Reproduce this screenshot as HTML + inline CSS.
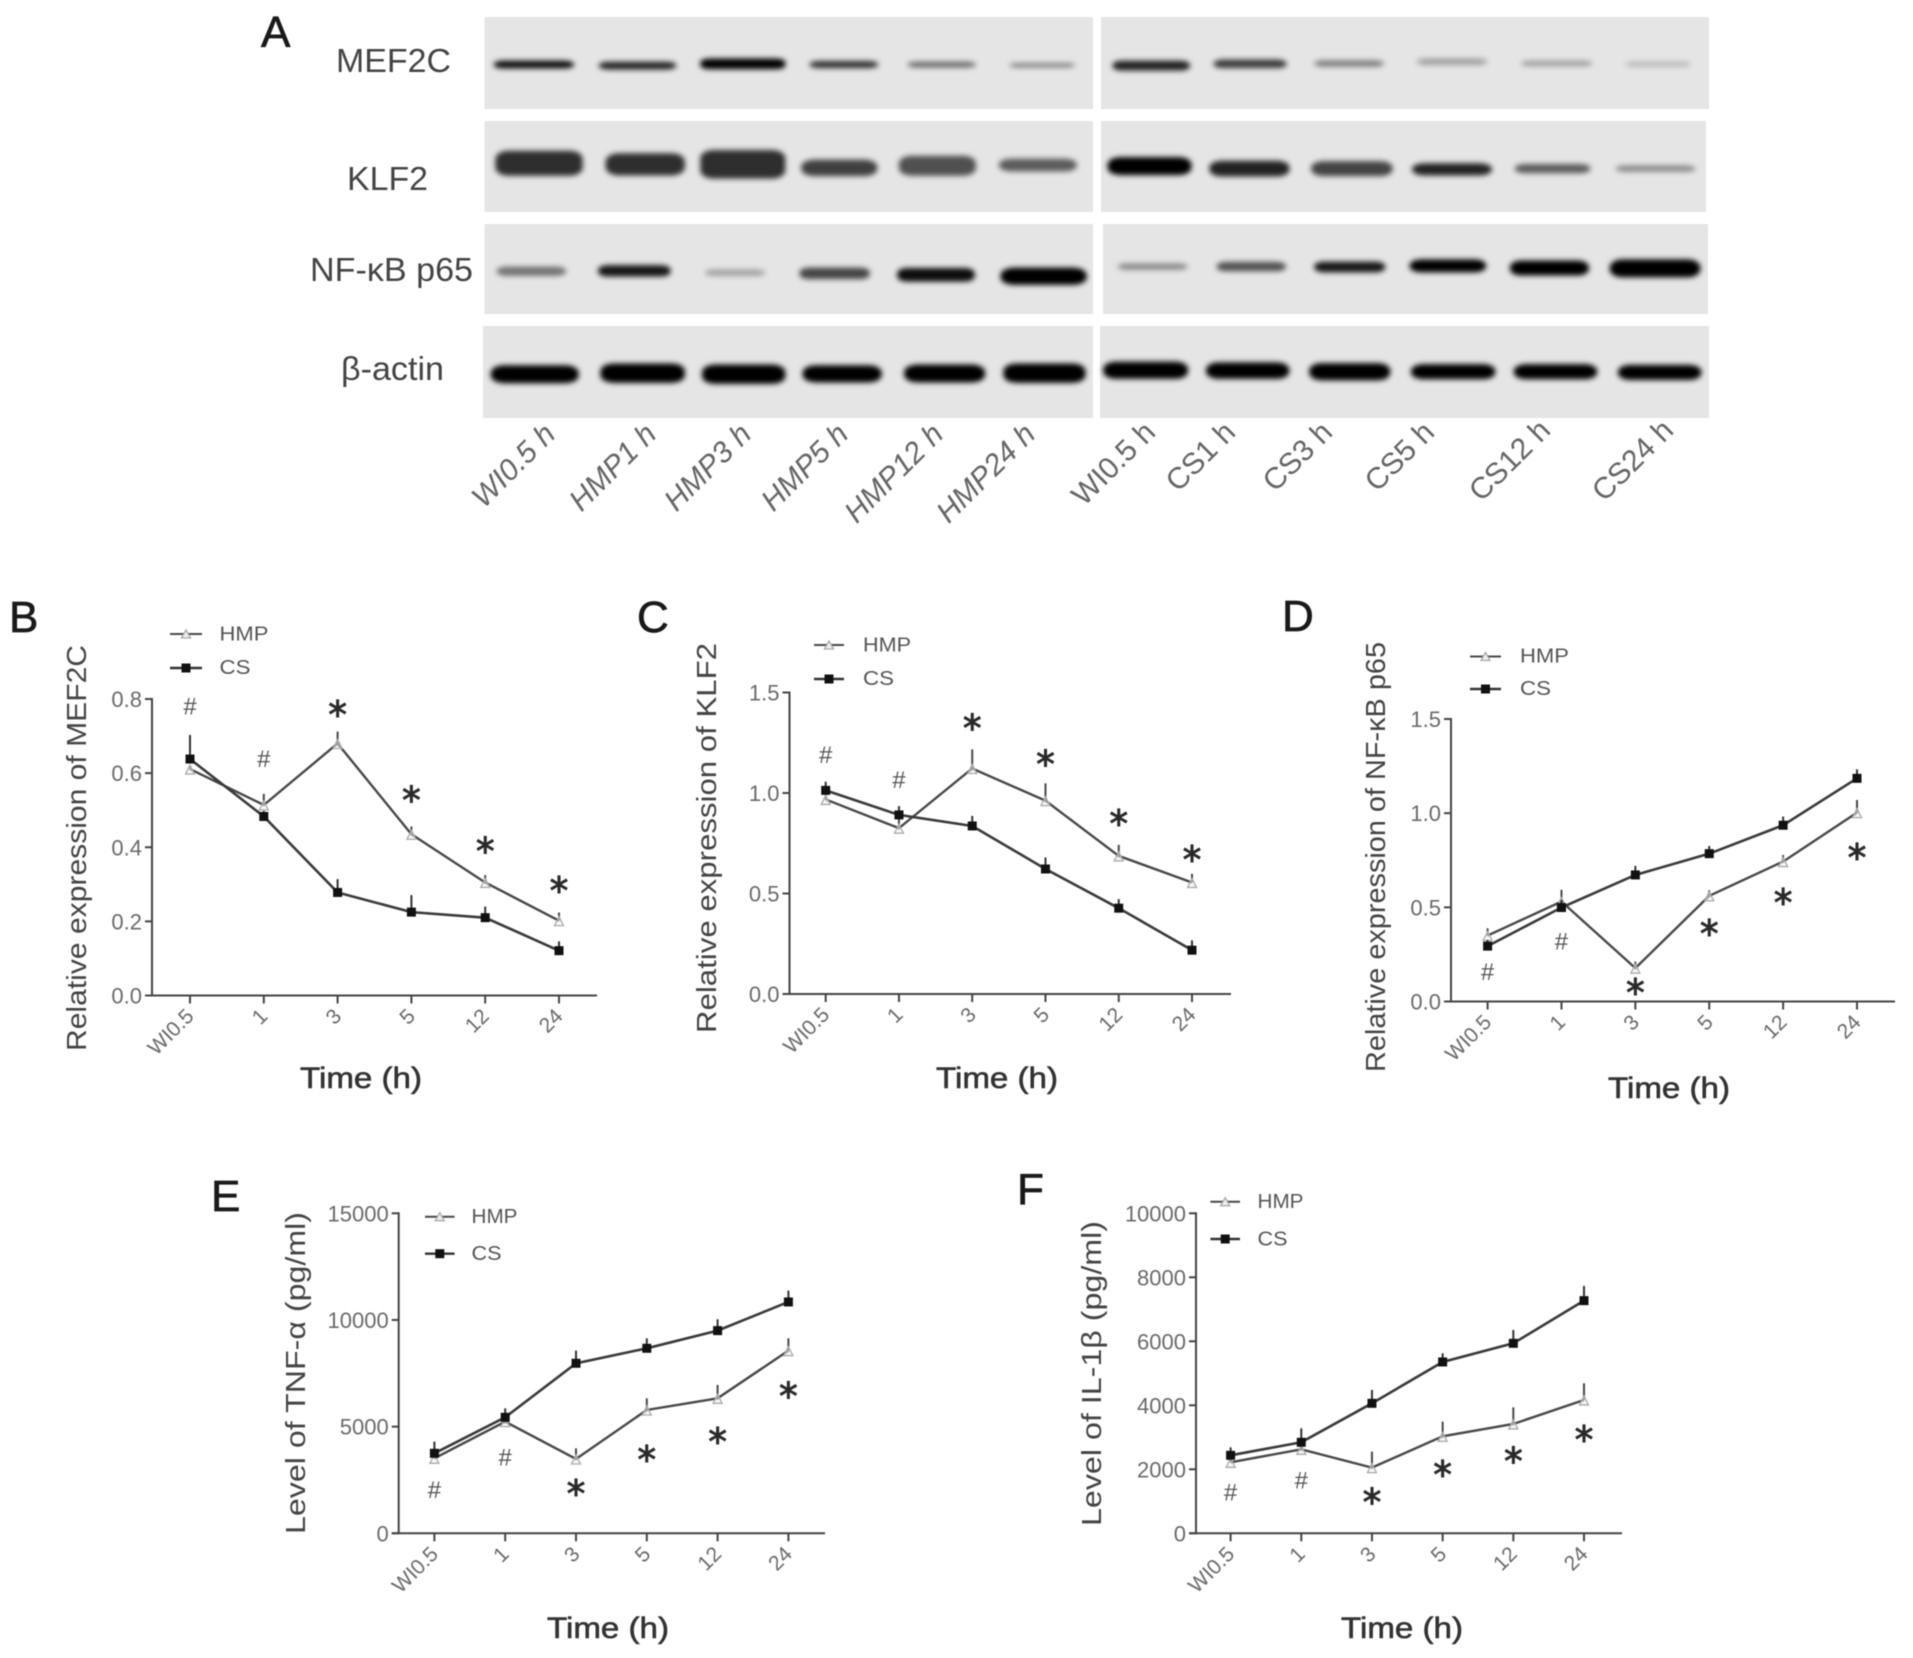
<!DOCTYPE html>
<html lang="en">
<head>
<meta charset="utf-8">
<title>Western blot and time-course expression panels</title>
<style>
  html, body { margin: 0; padding: 0; background: #fff; }
  svg { display: block; font-family: "Liberation Sans", sans-serif; filter: blur(0.6px); }
  .panel-letter { font-size: 44px; fill: #1a1a1a; stroke: #1a1a1a; stroke-width: 0.7px; }
  .blot-label { font-size: 33px; fill: #444; }
  .lane { font-size: 30px; fill: #666; }
  .y-title { font-size: 28px; fill: #444; }
  .x-title { font-size: 30px; fill: #333; stroke: #333; stroke-width: 0.6px; }
  .legend-text { font-size: 20px; fill: #555; }
</style>
</head>
<body>
<svg id="figure" xmlns="http://www.w3.org/2000/svg" width="1913" height="1658" viewBox="0 0 1913 1658">
  <defs>
    <filter id="bandBlur" x="-5%" y="-5%" width="110%" height="110%"><feGaussianBlur stdDeviation="2.6"/></filter>
  </defs>
  <rect x="0" y="0" width="1913" height="1658" fill="#fff"/>

  <!-- Panel A -->
  <g>
    <text class="panel-letter" x="261" y="47">A</text>
    <g fill="#e5e5e5">
      <rect x="484.5" y="17" width="608.5" height="92"/>
      <rect x="1101" y="17" width="608" height="92"/>
      <rect x="484.5" y="121" width="608.5" height="91"/>
      <rect x="1101" y="121" width="605" height="91"/>
      <rect x="484.5" y="224" width="608.5" height="90"/>
      <rect x="1103" y="224" width="605" height="90"/>
      <rect x="483" y="326" width="610" height="92"/>
      <rect x="1100" y="326" width="609" height="92"/>
    </g>
    <g filter="url(#bandBlur)">
      <g transform="translate(240 0) scale(0.574 0.3588)" fill="#000">
        <rect x="442" y="169" width="140" height="22" rx="18" ry="10" opacity="0.95"/>
        <rect x="625" y="172" width="135" height="22" rx="18" ry="10" opacity="0.85"/>
        <rect x="802" y="163" width="148" height="30" rx="18" ry="10" opacity="1"/>
        <rect x="992" y="170" width="120" height="20" rx="18" ry="10" opacity="0.8"/>
        <rect x="1163" y="172" width="119" height="16" rx="18" ry="8" opacity="0.55"/>
        <rect x="1340" y="176" width="115" height="12" rx="18" ry="6" opacity="0.45"/>

        <rect x="445" y="420" width="152" height="70" rx="24" ry="22" opacity="0.8"/>
        <rect x="637" y="427" width="138" height="62" rx="24" ry="22" opacity="0.8"/>
        <rect x="802" y="418" width="148" height="80" rx="24" ry="22" opacity="0.8"/>
        <rect x="978" y="445" width="132" height="46" rx="24" ry="18" opacity="0.72"/>
        <rect x="1148" y="434" width="134" height="56" rx="24" ry="20" opacity="0.65"/>
        <rect x="1322" y="442" width="136" height="36" rx="24" ry="16" opacity="0.6"/>

        <rect x="447" y="743" width="121" height="26" rx="18" ry="12" opacity="0.5"/>
        <rect x="624" y="739" width="126" height="32" rx="18" ry="12" opacity="0.9"/>
        <rect x="810" y="751" width="105" height="18" rx="18" ry="9" opacity="0.3"/>
        <rect x="975" y="746" width="122" height="32" rx="18" ry="12" opacity="0.7"/>
        <rect x="1145" y="747" width="135" height="38" rx="18" ry="14" opacity="0.95"/>
        <rect x="1325" y="746" width="150" height="48" rx="24" ry="20" opacity="1"/>

        <rect x="437" y="1018" width="153" height="50" rx="24" ry="20"/>
        <rect x="628" y="1013" width="147" height="54" rx="24" ry="20"/>
        <rect x="805" y="1016" width="145" height="54" rx="24" ry="20"/>
        <rect x="980" y="1018" width="138" height="48" rx="24" ry="20"/>
        <rect x="1157" y="1016" width="141" height="50" rx="24" ry="20"/>
        <rect x="1330" y="1013" width="143" height="54" rx="24" ry="20"/>
      </g>
      <g transform="translate(1000 0) scale(0.4847 0.3588)" fill="#000">
        <rect x="232" y="169" width="160" height="28" rx="20" ry="12" opacity="0.85"/>
        <rect x="440" y="166" width="152" height="24" rx="20" ry="12" opacity="0.75"/>
        <rect x="648" y="168" width="144" height="18" rx="20" ry="9" opacity="0.45"/>
        <rect x="860" y="163" width="145" height="18" rx="20" ry="9" opacity="0.3"/>
        <rect x="1075" y="169" width="147" height="16" rx="20" ry="8" opacity="0.3"/>
        <rect x="1290" y="172" width="135" height="14" rx="20" ry="7" opacity="0.2"/>

        <rect x="222" y="438" width="173" height="50" rx="26" ry="20" opacity="1"/>
        <rect x="432" y="448" width="165" height="44" rx="26" ry="18" opacity="0.85"/>
        <rect x="642" y="449" width="168" height="42" rx="26" ry="18" opacity="0.7"/>
        <rect x="850" y="455" width="165" height="34" rx="26" ry="16" opacity="0.85"/>
        <rect x="1062" y="457" width="156" height="26" rx="22" ry="12" opacity="0.6"/>
        <rect x="1270" y="461" width="165" height="18" rx="22" ry="9" opacity="0.4"/>

        <rect x="243" y="734" width="144" height="18" rx="20" ry="9" opacity="0.4"/>
        <rect x="447" y="730" width="143" height="26" rx="20" ry="12" opacity="0.65"/>
        <rect x="648" y="729" width="147" height="30" rx="20" ry="14" opacity="0.9"/>
        <rect x="845" y="723" width="158" height="36" rx="24" ry="16" opacity="1"/>
        <rect x="1052" y="726" width="163" height="42" rx="24" ry="18" opacity="1"/>
        <rect x="1258" y="723" width="187" height="50" rx="26" ry="22" opacity="1"/>

        <rect x="213" y="1008" width="175" height="48" rx="26" ry="20"/>
        <rect x="425" y="1010" width="172" height="46" rx="26" ry="20"/>
        <rect x="638" y="1012" width="167" height="48" rx="26" ry="20"/>
        <rect x="848" y="1015" width="174" height="42" rx="26" ry="18"/>
        <rect x="1060" y="1015" width="172" height="42" rx="26" ry="18"/>
        <rect x="1275" y="1017" width="172" height="42" rx="26" ry="18"/>
      </g>
    </g>
    <text class="blot-label" x="336" y="72" textLength="115" lengthAdjust="spacingAndGlyphs">MEF2C</text>
    <text class="blot-label" x="347" y="190" textLength="81" lengthAdjust="spacingAndGlyphs">KLF2</text>
    <text class="blot-label" x="310" y="281" textLength="163" lengthAdjust="spacingAndGlyphs">NF-κB p65</text>
    <text class="blot-label" x="341" y="380" textLength="103" lengthAdjust="spacingAndGlyphs">β-actin</text>

    <g text-anchor="end">
      <text class="lane" font-style="italic" transform="translate(557 436) rotate(-45)">WI0.5 h</text>
      <text class="lane" font-style="italic" transform="translate(658 436) rotate(-45)">HMP1 h</text>
      <text class="lane" font-style="italic" transform="translate(753 436) rotate(-45)">HMP3 h</text>
      <text class="lane" font-style="italic" transform="translate(850 436) rotate(-45)">HMP5 h</text>
      <text class="lane" font-style="italic" transform="translate(945 436) rotate(-45)">HMP12 h</text>
      <text class="lane" font-style="italic" transform="translate(1037 436) rotate(-45)">HMP24 h</text>
      <text class="lane" transform="translate(1157 434) rotate(-45)">WI0.5 h</text>
      <text class="lane" transform="translate(1237 434) rotate(-45)">CS1 h</text>
      <text class="lane" transform="translate(1334 434) rotate(-45)">CS3 h</text>
      <text class="lane" transform="translate(1436 434) rotate(-45)">CS5 h</text>
      <text class="lane" transform="translate(1552 432) rotate(-45)">CS12 h</text>
      <text class="lane" transform="translate(1675 432) rotate(-45)">CS24 h</text>
    </g>
  </g>

  <!-- Titles and legends of the line charts -->
  <g>
    <text class="panel-letter" x="9" y="632">B</text>
    <text class="y-title" transform="translate(86 1051) rotate(-90)" textLength="406" lengthAdjust="spacingAndGlyphs">Relative expression of MEF2C</text>
    <text class="x-title" x="300" y="1088" textLength="122" lengthAdjust="spacingAndGlyphs">Time (h)</text>
    <text class="legend-text" x="219.5" y="640.5" textLength="49" lengthAdjust="spacingAndGlyphs">HMP</text>
    <text class="legend-text" x="219.5" y="674" textLength="31" lengthAdjust="spacingAndGlyphs">CS</text>
  </g>
  <g>
    <text class="panel-letter" x="637" y="632">C</text>
    <text class="y-title" transform="translate(716 1033) rotate(-90)" textLength="390" lengthAdjust="spacingAndGlyphs">Relative expression of KLF2</text>
    <text class="x-title" x="936" y="1088" textLength="122" lengthAdjust="spacingAndGlyphs">Time (h)</text>
    <text class="legend-text" x="863" y="651.5" textLength="48" lengthAdjust="spacingAndGlyphs">HMP</text>
    <text class="legend-text" x="863" y="685" textLength="31" lengthAdjust="spacingAndGlyphs">CS</text>
  </g>
  <g>
    <text class="panel-letter" x="1282" y="631">D</text>
    <text class="y-title" transform="translate(1385 1072) rotate(-90)" textLength="430" lengthAdjust="spacingAndGlyphs">Relative expression of NF-κB p65</text>
    <text class="x-title" x="1608" y="1098" textLength="122" lengthAdjust="spacingAndGlyphs">Time (h)</text>
    <text class="legend-text" x="1520" y="662.5" textLength="49" lengthAdjust="spacingAndGlyphs">HMP</text>
    <text class="legend-text" x="1520" y="695" textLength="31" lengthAdjust="spacingAndGlyphs">CS</text>
  </g>
  <g>
    <text class="panel-letter" x="211" y="1211">E</text>
    <text class="y-title" transform="translate(305 1534) rotate(-90)" textLength="322" lengthAdjust="spacingAndGlyphs">Level of TNF-α (pg/ml)</text>
    <text class="x-title" x="547" y="1638" textLength="122" lengthAdjust="spacingAndGlyphs">Time (h)</text>
    <text class="legend-text" x="471.5" y="1223" textLength="46" lengthAdjust="spacingAndGlyphs">HMP</text>
    <text class="legend-text" x="471.5" y="1260" textLength="30" lengthAdjust="spacingAndGlyphs">CS</text>
  </g>
  <g>
    <text class="panel-letter" x="1017" y="1204">F</text>
    <text class="y-title" transform="translate(1101 1526) rotate(-90)" textLength="305" lengthAdjust="spacingAndGlyphs">Level of IL-1β (pg/ml)</text>
    <text class="x-title" x="1341" y="1638" textLength="122" lengthAdjust="spacingAndGlyphs">Time (h)</text>
    <text class="legend-text" x="1257.5" y="1208" textLength="46" lengthAdjust="spacingAndGlyphs">HMP</text>
    <text class="legend-text" x="1257.5" y="1245.5" textLength="30" lengthAdjust="spacingAndGlyphs">CS</text>
  </g>
  <g id="charts"></g>
</svg>

<script>
// Shared categories
const timeCategories = ['WI0.5', '1', '3', '5', '12', '24'];
const annotationSymbols = ['#', '#', '*', '*', '*', '*'];

// Panel B: MEF2C
const mef2cTicks = [0.0, 0.2, 0.4, 0.6, 0.8];
const mef2cHmp = [0.611, 0.514, 0.68, 0.435, 0.305, 0.202];
const mef2cCs = [0.638, 0.483, 0.278, 0.225, 0.21, 0.121];
const mef2cHmpErr = [0.01, 0.03, 0.032, 0.021, 0.02, 0.022];
const mef2cCsErr = [0.065, 0.015, 0.036, 0.046, 0.03, 0.025];
const mef2cMarks = [0.78, 0.638, 0.775, 0.544, 0.406, 0.30];

// Panel C: KLF2
const klf2Ticks = [0.0, 0.5, 1.0, 1.5];
const klf2Hmp = [0.968, 0.825, 1.122, 0.962, 0.687, 0.555];
const klf2Cs = [1.013, 0.891, 0.836, 0.622, 0.427, 0.218];
const klf2HmpErr = [0.02, 0.05, 0.095, 0.086, 0.055, 0.043];
const klf2CsErr = [0.043, 0.044, 0.05, 0.057, 0.045, 0.049];
const klf2Marks = [1.189, 1.065, 1.354, 1.175, 0.879, 0.70];

// Panel D: NF-kB p65
const nfkbTicks = [0.0, 0.5, 1.0, 1.5];
const nfkbHmp = [0.35, 0.531, 0.177, 0.561, 0.743, 1.003];
const nfkbCs = [0.294, 0.499, 0.672, 0.785, 0.936, 1.185];
const nfkbHmpErr = [0.039, 0.062, 0.035, 0.03, 0.035, 0.067];
const nfkbCsErr = [0.033, 0.04, 0.048, 0.041, 0.046, 0.048];
const nfkbMarks = [0.156, 0.318, 0.08, 0.394, 0.557, 0.796];

// Panel E: TNF-alpha
const tnfTicks = [0, 5000, 10000, 15000];
const tnfHmp = [3516, 5234, 3484, 5781, 6328, 8562];
const tnfCs = [3750, 5437, 7969, 8672, 9500, 10844];
const tnfHmpErr = [300, 100, 500, 547, 625, 578];
const tnfCsErr = [547, 422, 593, 468, 531, 531];
const tnfMarks = [2031, 3562, 2141, 3750, 4594, 6719];

// Panel F: IL-1 beta
const il1bTicks = [0, 2000, 4000, 6000, 8000, 10000];
const il1bHmp = [2219, 2625, 2052, 3031, 3417, 4167];
const il1bCs = [2437, 2844, 4062, 5354, 5937, 7271];
const il1bHmpErr = [150, 100, 500, 459, 520, 520];
const il1bCsErr = [250, 437, 417, 271, 417, 458];
const il1bMarks = [1281, 1646, 1167, 2031, 2448, 3125];

const SVG_NS = 'http://www.w3.org/2000/svg';

function mk(tag, parent, geometry) {
  const node = document.createElementNS(SVG_NS, tag);
  for (const key in geometry) node.setAttribute(key, geometry[key]);
  parent.appendChild(node);
  return node;
}

function drawChart(cfg) {
  const root = document.getElementById('charts');
  const g = mk('g', root, {});
  
  

  const yMax = cfg.ticks[cfg.ticks.length - 1];
  const yScale = function (v) { return cfg.y0 - (v / yMax) * (cfg.y0 - cfg.yTop); };
  const xScale = function (i) { return cfg.xFirst + i * (cfg.xLast - cfg.xFirst) / (timeCategories.length - 1); };

  // y axis
  const yAxis = mk('line', g, { x1: cfg.axisX, x2: cfg.axisX, y1: yScale(yMax) - 1, y2: cfg.y0 + 1, stroke: '#444', 'stroke-width': 2 });
  
  

  cfg.ticks.forEach(function (t) {
    const tick = mk('line', g, { x1: cfg.axisX - 7, x2: cfg.axisX, y1: yScale(t), y2: yScale(t), stroke: '#444', 'stroke-width': 2 });
    
    
    const label = mk('text', g, { x: cfg.axisX - 10, y: yScale(t) + 8, 'text-anchor': 'end', 'font-size': 22, fill: '#6a6a6a' });
    
    
    label.textContent = cfg.decimals ? t.toFixed(cfg.decimals) : String(t);
  });

  // x axis
  const xAxis = mk('line', g, { x1: cfg.axisX - 7, x2: cfg.axisEnd, y1: cfg.y0, y2: cfg.y0, stroke: '#444', 'stroke-width': 2 });
  
  

  timeCategories.forEach(function (c, i) {
    const tick = mk('line', g, { x1: xScale(i), x2: xScale(i), y1: cfg.y0, y2: cfg.y0 + 8, stroke: '#444', 'stroke-width': 2 });
    
    
    const px = xScale(i) + 5;
    const py = cfg.y0 + 22;
    const label = mk('text', g, { 'text-anchor': 'end', 'font-size': 21, fill: '#6a6a6a', transform: 'translate(' + px + ' ' + py + ') rotate(-45)' });
    
    
    label.textContent = c;
  });

  // HMP series
  const hmpPts = cfg.hmp.map(function (v, i) { return xScale(i) + ',' + yScale(v); }).join(' ');
  const hmpLine = mk('polyline', g, { points: hmpPts, fill: 'none', stroke: '#484848', 'stroke-width': 2.4 });
  
  

  cfg.hmp.forEach(function (v, i) {
    const x = xScale(i);
    const y = yScale(v);
    const err = mk('line', g, { x1: x, x2: x, y1: y, y2: yScale(v + cfg.hmpErr[i]), stroke: '#484848', 'stroke-width': 2 });
    
    
    const pts = x + ',' + (y - 4) + ' ' + (x + 4.5) + ',' + (y + 5) + ' ' + (x - 4.5) + ',' + (y + 5);
    const tri = mk('polygon', g, { points: pts, fill: '#eee', 'fill-opacity': 0.5, stroke: '#aaa', 'stroke-width': 1.3 });
    
    
  });

  // CS series
  const csPts = cfg.cs.map(function (v, i) { return xScale(i) + ',' + yScale(v); }).join(' ');
  const csLine = mk('polyline', g, { points: csPts, fill: 'none', stroke: '#3a3a3a', 'stroke-width': 2.6 });
  
  

  cfg.cs.forEach(function (v, i) {
    const x = xScale(i);
    const y = yScale(v);
    const err = mk('line', g, { x1: x, x2: x, y1: y, y2: yScale(v + cfg.csErr[i]), stroke: '#333', 'stroke-width': 2 });
    
    
    const sq = mk('rect', g, { x: x - 4.5, y: y - 4.5, width: 9, height: 9, fill: '#111' });
    
    
  });

  // significance marks
  cfg.marks.forEach(function (v, i) {
    const sym = annotationSymbols[i];
    const isStar = sym === '*';
    const mark = mk('text', g, {
      x: xScale(i),
      y: yScale(v) + (isStar ? 19 : 8),
      'text-anchor': 'middle',
      'font-size': isStar ? 37 : 24,
      fill: isStar ? '#2a2a2a' : '#555',
      stroke: isStar ? '#2a2a2a' : 'none',
      'stroke-width': isStar ? 1 : 0,
      'font-family': isStar ? '"DejaVu Sans", sans-serif' : '"Liberation Sans", sans-serif'
    });
    
    
    mark.textContent = sym;
  });

  // legend glyphs
  const hmpKey = mk('line', g, { x1: cfg.legX1, x2: cfg.legX2, y1: cfg.legY1, y2: cfg.legY1, stroke: '#484848', 'stroke-width': 2 });
  
  
  const lx = (cfg.legX1 + cfg.legX2) / 2;
  const triKey = mk('polygon', g, { points: lx + ',' + (cfg.legY1 - 4) + ' ' + (lx + 4.5) + ',' + (cfg.legY1 + 4) + ' ' + (lx - 4.5) + ',' + (cfg.legY1 + 4), fill: '#eee', stroke: '#aaa', 'stroke-width': 1.3 });
  
  
  const csKey = mk('line', g, { x1: cfg.legX1, x2: cfg.legX2, y1: cfg.legY2, y2: cfg.legY2, stroke: '#333', 'stroke-width': 2.4 });
  
  
  const sqKey = mk('rect', g, { x: lx - 4.5, y: cfg.legY2 - 4.5, width: 9, height: 9, fill: '#111' });
  
  
}

drawChart({ id: 'mef2c', ticks: mef2cTicks, decimals: 1, hmp: mef2cHmp, cs: mef2cCs, hmpErr: mef2cHmpErr, csErr: mef2cCsErr, marks: mef2cMarks,
  axisX: 152, axisEnd: 597, y0: 995.5, yTop: 699, xFirst: 190, xLast: 559, legX1: 170, legX2: 202, legY1: 634, legY2: 668 });
drawChart({ id: 'klf2', ticks: klf2Ticks, decimals: 1, hmp: klf2Hmp, cs: klf2Cs, hmpErr: klf2HmpErr, csErr: klf2CsErr, marks: klf2Marks,
  axisX: 789.5, axisEnd: 1231, y0: 994, yTop: 692.5, xFirst: 825.7, xLast: 1192, legX1: 814, legX2: 844, legY1: 645, legY2: 679 });
drawChart({ id: 'nfkb', ticks: nfkbTicks, decimals: 1, hmp: nfkbHmp, cs: nfkbCs, hmpErr: nfkbHmpErr, csErr: nfkbCsErr, marks: nfkbMarks,
  axisX: 1451, axisEnd: 1895, y0: 1001.5, yTop: 719, xFirst: 1487.6, xLast: 1857, legX1: 1470, legX2: 1501, legY1: 656.5, legY2: 689 });
drawChart({ id: 'tnf', ticks: tnfTicks, decimals: 0, hmp: tnfHmp, cs: tnfCs, hmpErr: tnfHmpErr, csErr: tnfCsErr, marks: tnfMarks,
  axisX: 398.7, axisEnd: 825, y0: 1533.3, yTop: 1213.3, xFirst: 434.4, xLast: 788.4, legX1: 425, legX2: 454.6, legY1: 1216.7, legY2: 1253.7 });
drawChart({ id: 'il1b', ticks: il1bTicks, decimals: 0, hmp: il1bHmp, cs: il1bCs, hmpErr: il1bHmpErr, csErr: il1bCsErr, marks: il1bMarks,
  axisX: 1196, axisEnd: 1622, y0: 1533.3, yTop: 1213.3, xFirst: 1230.6, xLast: 1584, legX1: 1210.4, legX2: 1240, legY1: 1201.7, legY2: 1239 });
</script>
</body>
</html>
